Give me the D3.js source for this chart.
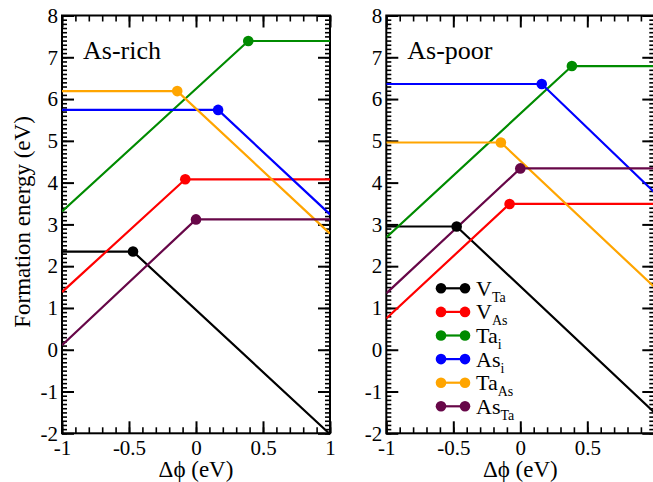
<!DOCTYPE html>
<html><head><meta charset="utf-8">
<script src="https://cdn.jsdelivr.net/npm/d3@7/dist/d3.min.js"></script>
<style>body{margin:0;background:#fff}svg{display:block}</style>
</head><body><svg id="c" width="653" height="482"></svg>
<script>
// ---- data ----
const defects = ["V_Ta","V_As","Ta_i","As_i","Ta_As","As_Ta"];
const defectMain = ["V","V","Ta","As","Ta","As"];
const defectSub = ["Ta","As","i","i","As","Ta"];
const colors = ["#000000","#ff0000","#008b00","#0000ff","#ffa500","#670748"];
const panelTitles = ["As-rich","As-poor"];
// points per defect: [x, y] at start, kink, end
const asRich = [
  [[-1,2.35],[-0.47,2.35],[1,-2.02]],
  [[-1,1.38],[-0.08,4.08],[1,4.08]],
  [[-1,3.31],[0.39,7.39],[1,7.39]],
  [[-1,5.74],[0.165,5.74],[1,3.24]],
  [[-1,6.19],[-0.14,6.19],[1,2.78]],
  [[-1,0.11],[0.0,3.12],[1,3.12]]
];
const asPoor = [
  [[-1,2.95],[-0.475,2.95],[1,-1.50]],
  [[-1,0.75],[-0.08,3.49],[1,3.49]],
  [[-1,2.69],[0.385,6.79],[1,6.79]],
  [[-1,6.36],[0.16,6.36],[1,3.77]],
  [[-1,4.96],[-0.145,4.96],[1,1.50]],
  [[-1,1.35],[0.0,4.34],[1,4.34]]
];
const xTicksRich = [-1,-0.5,0,0.5,1];
const xTicksPoor = [-1,-0.5,0,0.5];
const yTicks = [-2,-1,0,1,2,3,4,5,6,7,8];
const xTitle = "Δϕ (eV)";
const yTitle = "Formation energy (eV)";

// ---- layout ----
const FONT = '"Liberation Serif","Times New Roman",Times,serif';
const svg = d3.select("#c");
const yTop = 15.5, yBot = 433.3;
const panels = [{x0:62, x1:330, data:asRich, lab:xTicksRich},{x0:386.3, x1:654.3, data:asPoor, lab:xTicksPoor}];
const y = d3.scaleLinear().domain([-2,8]).range([yBot, yTop]);
const minorX = d3.range(-10,11).map(d=>d/10);
const minorY = d3.range(-20,81).map(d=>d/10);
const majorX = [-1,-0.5,0,0.5,1];

panels.forEach((p,pi)=>{
  const x = d3.scaleLinear().domain([-1,1]).range([p.x0,p.x1]);
  const g = svg.append("g");
  const clipId = "clip"+pi;
  svg.append("clipPath").attr("id",clipId).append("rect")
    .attr("x",p.x0).attr("y",yTop).attr("width",p.x1-p.x0).attr("height",yBot-yTop);

  const mk = (axis, tr, isMajor) => {
    const a = g.append("g").attr("transform",tr).call(axis);
    a.attr("font-family",null).attr("font-size",null);
    a.select(".domain").remove();
    a.selectAll("line").attr("stroke","#000").attr("stroke-width",isMajor?2:1.6);
    a.selectAll("text").style("font-size","21px").style("font-family",FONT).attr("fill","#000");
    return a;
  };
  const fmt = d => String(d);
  mk(d3.axisBottom(x).tickValues(p.lab).tickSize(0).tickPadding(7).tickFormat(fmt), `translate(0,${yBot})`, true);
  mk(d3.axisBottom(x).tickValues(majorX).tickSize(-12).tickFormat(""), `translate(0,${yBot})`, true);
  mk(d3.axisBottom(x).tickValues(minorX).tickSize(-6).tickFormat(""), `translate(0,${yBot})`, false);
  mk(d3.axisTop(x).tickValues(majorX).tickSize(-12).tickFormat(""), `translate(0,${yTop})`, true);
  mk(d3.axisTop(x).tickValues(minorX).tickSize(-6).tickFormat(""), `translate(0,${yTop})`, false);
  mk(d3.axisLeft(y).tickValues(yTicks).tickSize(-12).tickPadding(4).tickFormat(fmt), `translate(${p.x0},0)`, true);
  mk(d3.axisLeft(y).tickValues(minorY).tickSize(-5).tickFormat(""), `translate(${p.x0},0)`, false);
  mk(d3.axisRight(y).tickValues(yTicks).tickSize(-12).tickFormat(""), `translate(${p.x1},0)`, true);
  mk(d3.axisRight(y).tickValues(minorY).tickSize(-5).tickFormat(""), `translate(${p.x1},0)`, false);

  g.append("rect").attr("x",p.x0).attr("y",yTop).attr("width",p.x1-p.x0).attr("height",yBot-yTop)
    .attr("fill","none").attr("stroke","#000").attr("stroke-width",2);

  const line = d3.line().x(d=>x(d[0])).y(d=>y(d[1]));
  const sg = g.append("g").attr("clip-path",`url(#${clipId})`);
  p.data.forEach((pts,i)=>{
    sg.append("path").attr("d",line(pts)).attr("fill","none")
      .attr("stroke",colors[i]).attr("stroke-width",2.2);
  });
  p.data.forEach((pts,i)=>{
    sg.append("circle").attr("cx",x(pts[1][0])).attr("cy",y(pts[1][1])).attr("r",5.3).attr("fill",colors[i]);
  });

  g.append("text").attr("x",p.x0+21).attr("y",59).style("font-family",FONT).style("font-size","26px").text(panelTitles[pi]);
  g.append("text").attr("x",(p.x0+p.x1)/2).attr("y",477).attr("text-anchor","middle")
    .style("font-family",FONT).style("font-size","23px").text(xTitle);
});

svg.append("text").attr("transform","translate(30,222) rotate(-90)").attr("text-anchor","middle")
  .style("font-family",FONT).style("font-size","23px").text(yTitle);

const lg = svg.append("g");
defects.forEach((d,i)=>{
  const yy = 288.3 + i*23.6;
  lg.append("line").attr("x1",441).attr("x2",465).attr("y1",yy).attr("y2",yy)
    .attr("stroke",colors[i]).attr("stroke-width",2.2);
  lg.append("circle").attr("cx",441).attr("cy",yy).attr("r",5.3).attr("fill",colors[i]);
  lg.append("circle").attr("cx",465).attr("cy",yy).attr("r",5.3).attr("fill",colors[i]);
  const t = lg.append("text").attr("x",476).attr("y",yy+7.5).style("font-family",FONT).style("font-size","22px");
  t.append("tspan").text(defectMain[i]);
  t.append("tspan").attr("dy",6).style("font-size","14px").text(defectSub[i]);
});
</script></body></html>
